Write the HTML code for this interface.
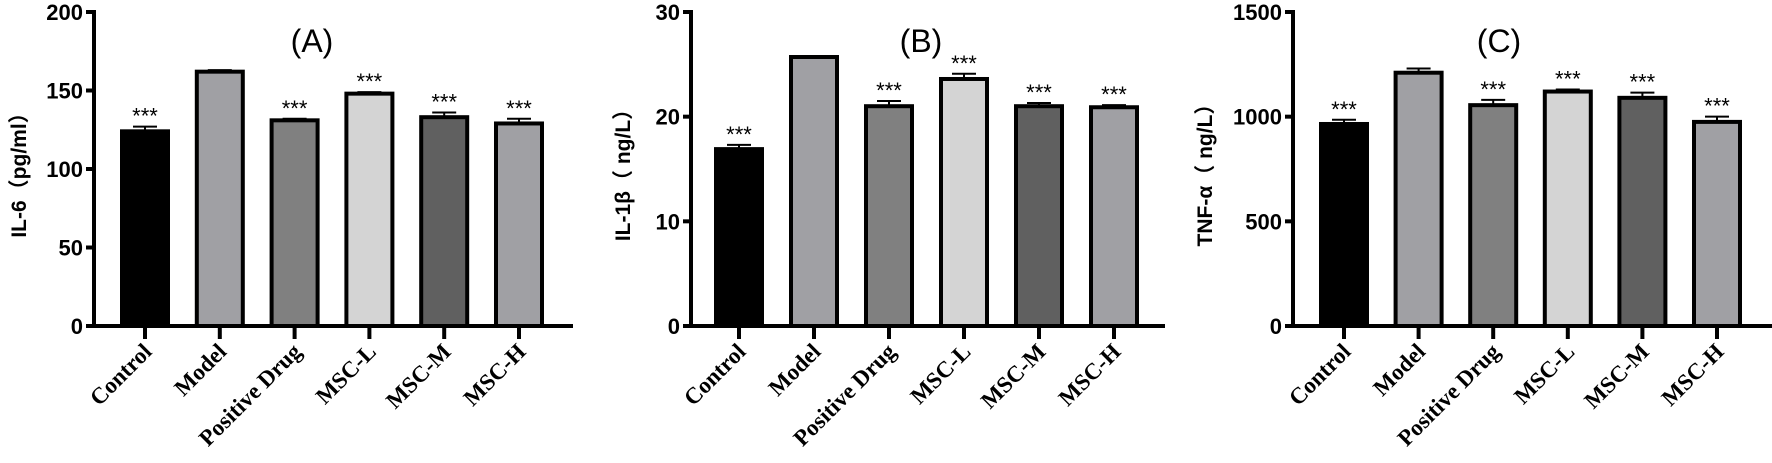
<!DOCTYPE html>
<html><head><meta charset="utf-8">
<style>
html,body{margin:0;padding:0;background:#fff;width:1772px;height:463px;overflow:hidden}
svg{display:block}
</style></head>
<body>
<svg id="chart" width="1772" height="463" xmlns="http://www.w3.org/2000/svg"></svg>
<script>
const categories = ["Control","Model","Positive Drug","MSC-L","MSC-M","MSC-H"];
const fills = ["#000000","#a0a0a4","#808080","#d4d4d4","#606060","#a0a0a4"];
const il6Values = [124, 162, 131, 148, 133, 129];
const il6Errors = [3, 1, 1, 1, 3, 3];
const il1bValues = [16.9, 25.7, 21.0, 23.6, 21.0, 20.9];
const il1bErrors = [0.4, 0.1, 0.5, 0.5, 0.3, 0.2];
const tnfValues = [965, 1210, 1055, 1120, 1090, 975];
const tnfErrors = [20, 20, 25, 10, 25, 25];
const il6Ticks = [0, 50, 100, 150, 200];
const il1bTicks = [0, 10, 20, 30];
const tnfTicks = [0, 500, 1000, 1500];
const il6Stars = ["***","","***","***","***","***"];
const il1bStars = ["***","","***","***","***","***"];
const tnfStars = ["***","","***","***","***","***"];

const NS = "http://www.w3.org/2000/svg";
const svg = document.getElementById("chart");
function mk(tag, attrs, parent){
  const e = document.createElementNS(NS, tag);
  for (const k in attrs) e.setAttribute(k, attrs[k]);
  (parent||svg).appendChild(e);
  return e;
}
function panel(cfg){
  const g = mk("g", {});
  
  
  const y0 = 326, yTop = 12;
  const max = cfg.ticks[cfg.ticks.length-1];
  const y = v => y0 - (v / max) * (y0 - yTop);
  const x = i => cfg.x0 + cfg.step * i;
  cfg.values.forEach((v, i) => {
    const bw = 46;
    const r = mk("rect", {x: x(i)-bw/2, y: y(v), width: bw, height: y0 - y(v), fill: fills[i], stroke: "#000", "stroke-width": 4}, g);
    
    
    const ev = y(v + cfg.errors[i]);
    const e1 = mk("line", {x1: x(i), x2: x(i), y1: y(v), y2: ev, stroke: "#000", "stroke-width": 2}, g);
    
    
    const e2 = mk("line", {x1: x(i)-12, x2: x(i)+12, y1: ev, y2: ev, stroke: "#000", "stroke-width": 2}, g);
    
    
    if (cfg.stars[i]) {
      const s = mk("text", {x: x(i), y: ev - 3, "text-anchor": "middle", "font-family": "Liberation Sans, sans-serif", "font-size": 22, fill: "#000"}, g);
      s.textContent = cfg.stars[i];
      
      
    }
    const tk = mk("line", {x1: x(i), x2: x(i), y1: y0, y2: 339, stroke: "#000", "stroke-width": 4}, g);
    
    
    const lb = mk("text", {x: x(i)+8, y: 353, "text-anchor": "end", transform: `rotate(-45 ${x(i)+8} 353)`, "font-family": "Liberation Serif, serif", "font-weight": "bold", "font-size": 23, fill: "#000"}, g);
    lb.textContent = categories[i];
    
    
  });
  const ya = mk("line", {x1: cfg.axisX, x2: cfg.axisX, y1: yTop-2, y2: y0+2, stroke: "#000", "stroke-width": 4}, g);
  
  
  const xa = mk("line", {x1: cfg.axisX-8, x2: cfg.axisEnd, y1: y0, y2: y0, stroke: "#000", "stroke-width": 4}, g);
  
  
  cfg.ticks.forEach(t => {
    const tl = mk("line", {x1: cfg.axisX-8, x2: cfg.axisX, y1: y(t), y2: y(t), stroke: "#000", "stroke-width": 4}, g);
    
    
    const tt = mk("text", {x: cfg.axisX-11, y: y(t)+8, "text-anchor": "end", "font-family": "Liberation Sans, sans-serif", "font-weight": "bold", "font-size": 22, fill: "#000"}, g);
    tt.textContent = t;
    
    
  });
  const yt = mk("text", {x: cfg.titleX, y: 170, "text-anchor": "middle", transform: `rotate(-90 ${cfg.titleX} 170)`, "font-family": "Liberation Sans, 'Noto Sans CJK SC', sans-serif", "font-weight": "bold", "font-size": 21, fill: "#000"}, g);
  yt.textContent = cfg.yTitle;
  
  
  const pt = mk("text", {x: cfg.labelX, y: 52, "text-anchor": "middle", "font-family": "Liberation Sans, sans-serif", "font-size": 32, fill: "#000"}, g);
  pt.textContent = cfg.label;
  
  
}
panel({name: "il6-panel", values: il6Values, errors: il6Errors, ticks: il6Ticks, stars: il6Stars, axisX: 94, axisEnd: 573, x0: 145, step: 74.8, titleX: 26, yTitle: "IL-6（pg/ml）", label: "(A)", labelX: 312});
panel({name: "il1b-panel", values: il1bValues, errors: il1bErrors, ticks: il1bTicks, stars: il1bStars, axisX: 691, axisEnd: 1165, x0: 739, step: 75, titleX: 630, yTitle: "IL-1β（ ng/L）", label: "(B)", labelX: 921});
panel({name: "tnf-panel", values: tnfValues, errors: tnfErrors, ticks: tnfTicks, stars: tnfStars, axisX: 1293, axisEnd: 1772, x0: 1344, step: 74.6, titleX: 1212, yTitle: "TNF-α（ ng/L）", label: "(C)", labelX: 1499});
</script>
</body></html>
